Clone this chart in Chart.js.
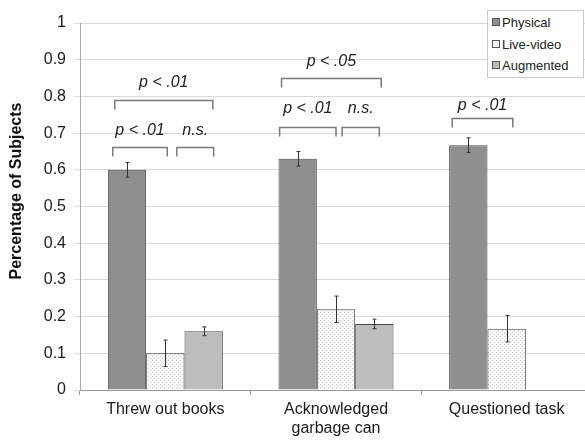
<!DOCTYPE html>
<html>
<head>
<meta charset="utf-8">
<script src="https://cdn.jsdelivr.net/npm/chart.js@4.4.1/dist/chart.umd.min.js"></script>
<style>
    html, body { margin: 0; padding: 0; background: #fff; overflow: hidden; }
    #wrap { position: relative; width: 585px; height: 440px; overflow: hidden; }
    #box { position: absolute; left: 0; top: 0; width: 592px; height: 440px; }
    #legend { position: absolute; left: 487px; top: 10px; width: 95px; height: 66px; background: #fff;
        border: 1px solid #c8c8c8; font: 13px "Liberation Sans", Arial, sans-serif; color: #222; }
    #legend ul { list-style: none; margin: 0; padding: 1px 0 0 4px; }
    #legend li { height: 21.5px; line-height: 21px; white-space: nowrap; }
    #legend li span { display: inline-block; width: 6px; height: 6px; border: 1px solid #555; margin-right: 2px; vertical-align: 1px; }
</style>
</head>
<body>
<div id="wrap">
    <div id="box"><canvas id="myChart" width="592" height="440"></canvas></div>
    <div id="legend"></div>
</div>
<script>
// categories and series
var categories = ['Threw out books', ['Acknowledged', 'garbage can'], 'Questioned task'];
var seriesNames = ['Physical', 'Live-video', 'Augmented'];
var physical = [0.60, 0.63, 0.667];
var liveVideo = [0.10, 0.22, 0.167];
var augmented = [0.16, 0.18, null];
var physicalErr = [0.02, 0.02, 0.02];
var liveVideoErr = [0.036, 0.036, 0.036];
var augmentedErr = [0.012, 0.013, null];
var yTicks = [0, 0.1, 0.2, 0.3, 0.4, 0.5, 0.6, 0.7, 0.8, 0.9, 1];

// significance brackets: [category, from slot, to slot, bracket y, label y, label]
var brackets = [
    [0, 0.18, 2.74, 0.79, 0.837, 'p < .01'],
    [0, 0.13, 1.55, 0.662, 0.706, 'p < .01'],
    [0, 1.80, 2.76, 0.662, 0.706, 'n.s.'],
    [1, 0.08, 2.68, 0.85, 0.896, 'p < .05'],
    [1, 0.03, 1.50, 0.717, 0.767, 'p < .01'],
    [1, 1.66, 2.63, 0.717, 0.767, 'n.s.'],
    [2, 0.08, 1.66, 0.741, 0.775, 'p < .01']
];

var FONT = '"Liberation Sans", Arial, sans-serif';

// dotted fill for Live-video
function dotPattern() {
    var c = document.createElement('canvas');
    c.width = 4; c.height = 4;
    var x = c.getContext('2d');
    x.fillStyle = '#f7f7f7';
    x.fillRect(0, 0, 4, 4);
    x.fillStyle = '#cfcfcf';
    x.fillRect(0, 0, 1, 1);
    x.fillRect(2, 2, 1, 1);
    return x.createPattern(c, 'repeat');
}

var errors = [physicalErr, liveVideoErr, augmentedErr];

var errorBarPlugin = {
    id: 'errorBars',
    afterDatasetsDraw: function (chart) {
        var ctx = chart.ctx;
        var y = chart.scales.y;
        ctx.save();
        ctx.strokeStyle = '#333';
        ctx.lineWidth = 1;
        chart.data.datasets.forEach(function (ds, d) {
            var meta = chart.getDatasetMeta(d);
            ds.data.forEach(function (v, i) {
                if (v == null || errors[d][i] == null) return;
                var x = Math.round(meta.data[i].x) + 0.5;
                var top = y.getPixelForValue(v + errors[d][i]);
                var bot = y.getPixelForValue(v - errors[d][i]);
                ctx.beginPath();
                ctx.moveTo(x, top); ctx.lineTo(x, bot);
                ctx.moveTo(x - 2, top); ctx.lineTo(x + 2, top);
                ctx.moveTo(x - 2, bot); ctx.lineTo(x + 2, bot);
                ctx.stroke();
            });
        });
        ctx.restore();
    }
};

var bracketPlugin = {
    id: 'brackets',
    afterDraw: function (chart) {
        var ctx = chart.ctx;
        var y = chart.scales.y;
        var meta = chart.getDatasetMeta(0);
        ctx.save();
        ctx.strokeStyle = '#7a7a7a';
        ctx.lineWidth = 1.5;
        ctx.fillStyle = '#222';
        ctx.font = 'italic 16px ' + FONT;
        ctx.textAlign = 'center';
        ctx.textBaseline = 'middle';
        brackets.forEach(function (b) {
            var el = meta.data[b[0]];
            var left = el.x - el.width / 2;
            var x1 = left + b[1] * el.width;
            var x2 = left + b[2] * el.width;
            var yb = Math.round(y.getPixelForValue(b[3])) + 0.5;
            ctx.beginPath();
            ctx.moveTo(x1, yb + 9); ctx.lineTo(x1, yb); ctx.lineTo(x2, yb); ctx.lineTo(x2, yb + 9);
            ctx.stroke();
            ctx.fillText(b[5], (x1 + x2) / 2, y.getPixelForValue(b[4]));
        });
        // y axis title
        ctx.translate(17, 191);
        ctx.rotate(-Math.PI / 2);
        ctx.font = 'bold 16px ' + FONT;
        ctx.fillStyle = '#111';
        ctx.fillText('Percentage of Subjects', 0, 0);
        ctx.restore();
    }
};

var ctx = document.getElementById('myChart').getContext('2d');
var colors = ['#8f8f8f', dotPattern(), '#bdbdbd'];
var seriesData = [physical, liveVideo, augmented];

var chart = new Chart(ctx, {
    type: 'bar',
    data: {
        labels: categories,
        datasets: seriesNames.map(function (name, i) {
            return {
                label: name,
                data: seriesData[i],
                backgroundColor: colors[i],
                borderColor: '#484848',
                borderWidth: 1,
                categoryPercentage: 0.674,
                barPercentage: 1
            };
        })
    },
    options: {
        responsive: false,
        animation: false,
        layout: { padding: { top: 23, right: 0, bottom: 0, left: 0 } },
        plugins: {
            legend: { display: false },
            tooltip: { enabled: false }
        },
        scales: {
            x: {
                offset: true,
                grid: { offset: true, drawOnChartArea: false, color: '#999', tickLength: 5 },
                border: { color: '#999' },
                ticks: { color: '#1a1a1a', font: { family: FONT, size: 16, lineHeight: 1.2 }, padding: 5, maxRotation: 0, autoSkip: false },
                afterFit: function (scale) { scale.height = 50; }
            },
            y: {
                min: 0,
                max: 1,
                afterBuildTicks: function (scale) {
                    scale.ticks = yTicks.map(function (v) { return { value: v }; });
                },
                grid: { color: '#d9d9d9', tickLength: 6 },
                border: { color: '#aaa' },
                ticks: {
                    color: '#1a1a1a',
                    font: { family: FONT, size: 16 },
                    padding: 8,
                    callback: function (v) { return String(Number(v.toFixed(1))); }
                },
                afterFit: function (scale) { scale.width = 80; }
            }
        }
    },
    plugins: [errorBarPlugin, bracketPlugin]
});

// legend
var legendEl = document.getElementById('legend');
var html = ['<ul>'];
seriesNames.forEach(function (name, i) {
    var bg = i === 1 ? '#fafafa' : colors[i];
    html.push('<li><span style="background:' + bg + '"></span>' + name + '</li>');
});
html.push('</ul>');
legendEl.innerHTML = html.join('');
</script>
</body>
</html>
